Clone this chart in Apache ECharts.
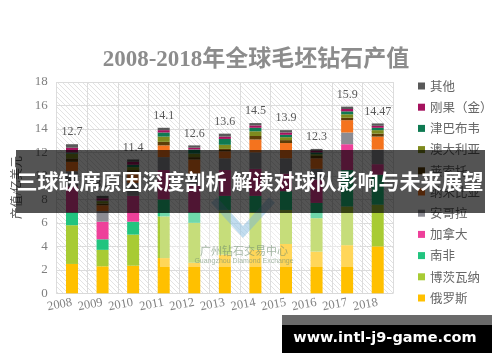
<!DOCTYPE html>
<html><head><meta charset="utf-8">
<script src="https://cdn.jsdelivr.net/npm/echarts@6/dist/echarts.min.js"></script>
<style>html,body{margin:0;padding:0;background:#fff}#c{width:500px;height:362px}</style>
</head><body><div id="c"></div>
<script>
const years = ['2008','2009','2010','2011','2012','2013','2014','2015','2016','2017','2018'];
const totals = [12.7, 8.3, 11.4, 14.1, 12.6, 13.6, 14.5, 13.9, 12.3, 15.9, 14.47];
const yTicks = [0, 18, 2];
// stacked from bottom to top
const russia      = [2.5, 2.3, 2.35, 3.0, 2.6, 3.3, 3.7, 4.2, 3.55, 4.1, 4.0];
const botswana    = [3.3, 1.4, 2.65, 3.55, 3.4, 3.8, 3.2, 2.9, 2.85, 3.3, 3.55];
const southAfrica = [1.1, 0.9, 1.1, 1.45, 0.9, 1.2, 1.4, 1.6, 1.3, 3.1, 2.55];
const canada      = [2.2, 1.5, 2.2, 2.5, 2.3, 2.2, 2.3, 1.5, 2.0, 2.2, 0.9];
const angola      = [1.3, 0.9, 1.1, 1.1, 1.0, 1.0, 1.4, 1.3, 0.9, 1.0, 1.25];
const namibia     = [0.8, 0.5, 0.8, 1.0, 1.2, 0.6, 1.1, 1.3, 0.9, 1.05, 1.1];
const lesotho     = [0.3, 0.15, 0.3, 0.3, 0.2, 0.2, 0.3, 0.25, 0.2, 0.2, 0.25];
const australia   = [0.4, 0.2, 0.25, 0.45, 0.3, 0.35, 0.4, 0.25, 0.15, 0.3, 0.3];
const zimbabwe    = [0.1, 0.05, 0.2, 0.35, 0.35, 0.5, 0.3, 0.2, 0.15, 0.25, 0.2];
const drc         = [0.4, 0.2, 0.25, 0.2, 0.15, 0.2, 0.2, 0.2, 0.15, 0.2, 0.17];
const other       = [0.3, 0.2, 0.2, 0.2, 0.2, 0.25, 0.2, 0.2, 0.15, 0.2, 0.2];
const seriesNames = ['俄罗斯','博茨瓦纳','南非','加拿大','安哥拉','纳米比亚','莱索托','澳大利亚','津巴布韦','刚果（金）','其他'];
const seriesData = [russia, botswana, southAfrica, canada, angola, namibia, lesotho, australia, zimbabwe, drc, other];
const colors = ['#FFC000','#A8CB34','#22C47F','#EE409A','#8C8C93','#F4731E','#5C3D08','#7E8A1E','#0F7A52','#A5125E','#595959'];

const pc = document.createElement('canvas'); pc.width = 5; pc.height = 5;
const g = pc.getContext('2d');
g.fillStyle = '#ffffff'; g.fillRect(0,0,5,5);
g.strokeStyle = '#e3e3e3'; g.lineWidth = 1;
g.beginPath(); g.moveTo(-1,-1); g.lineTo(6,6); g.stroke();

const serif = '"Liberation Serif", "Noto Sans CJK SC", serif';
const chart = echarts.init(document.getElementById('c'), null, {renderer:'canvas'});
const series = seriesNames.map((n, i) => ({
  name: n, type: 'bar', stack: 'all', barWidth: 12,
  itemStyle: {color: colors[i]},
  data: seriesData[i],
  label: i === seriesNames.length - 1 ? {
    show: true, position: 'top', distance: 6,
    fontFamily: serif, fontSize: 12, color: '#595959',
    formatter: p => String(totals[p.dataIndex])
  } : {show: false}
}));
chart.setOption({
  animation: false,
  backgroundColor: '#ffffff',
  title: {
    text: '2008-2018年全球毛坯钻石产值', left: 251, top: 44, textAlign: 'center',
    textStyle: {fontFamily: serif, fontSize: 23, fontWeight: 'bold', color: '#8c8c8c'}
  },
  legend: {
    orient: 'vertical', left: 413, top: 74, itemWidth: 7, itemHeight: 7, itemGap: 7.2,
    icon: 'rect', data: seriesNames.slice().reverse(),
    textStyle: {fontFamily: '"Noto Sans CJK SC", sans-serif', fontSize: 12.5, color: '#666', lineHeight: 14}
  },
  grid: {left: 56.7, right: 107, top: 82, bottom: 68.7, show: true, borderWidth: 0,
    backgroundColor: {image: pc, repeat: 'repeat'}},
  xAxis: {
    type: 'category', data: years,
    axisLine: {lineStyle: {color: '#d9d9d9'}}, axisTick: {show: false},
    splitLine: {show: true, lineStyle: {color: '#dcdcdc'}},
    axisLabel: {interval: 0, rotate: 11, margin: 9, fontFamily: serif, fontSize: 12.5, color: '#7f7f7f'}
  },
  yAxis: {
    type: 'value', min: yTicks[0], max: yTicks[1], interval: yTicks[2],
    name: '产值/亿美元', nameLocation: 'middle', nameGap: 33, nameRotate: 90,
    nameTextStyle: {fontFamily: serif, fontSize: 12, color: '#595959'},
    axisLine: {show: false}, axisTick: {show: false},
    splitLine: {lineStyle: {color: '#dcdcdc'}},
    axisLabel: {margin: 9, fontFamily: serif, fontSize: 13, color: '#7f7f7f'}
  },
  series: series,
  graphic: [
    {type: 'rect', z: 90, shape: {x: 160, y: 213, width: 200, height: 54}, style: {fill: 'rgba(255,255,255,0.35)'}},
    {type: 'polyline', z: 91, shape: {points: [[214,200],[243,232],[272,200]]}, style: {stroke: 'rgba(120,180,220,0.45)', lineWidth: 8, fill: null}},
    {type: 'text', z: 92, x: 244, y: 251, style: {text: '广州钻石交易中心', fontFamily: '"Noto Sans CJK SC", sans-serif', fontSize: 11, fill: 'rgba(110,140,110,0.6)', align: 'center', verticalAlign: 'middle'}},
    {type: 'text', z: 92, x: 244, y: 261.5, style: {text: 'Guangzhou Diamond Exchange', fontFamily: '"Liberation Sans", sans-serif', fontSize: 7, fill: 'rgba(110,140,110,0.6)', align: 'center', verticalAlign: 'middle'}},
    {type: 'rect', z: 100, shape: {x: 16, y: 150, width: 469, height: 63}, style: {fill: 'rgba(0,0,0,0.67)'}},
    {type: 'text', z: 101, x: 250, y: 181.5, style: {text: '三球缺席原因深度剖析 解读对球队影响与未来展望', fontFamily: '"Noto Sans CJK SC", sans-serif', fontWeight: 'bold', fontSize: 21, fill: '#ffffff', align: 'center', verticalAlign: 'middle'}},
    {type: 'rect', z: 100, shape: {x: 282, y: 315, width: 210, height: 10}, style: {fill: '#6a6a6a'}},
    {type: 'rect', z: 100, shape: {x: 282, y: 325, width: 210, height: 28}, style: {fill: '#000000'}},
    {type: 'text', z: 101, x: 385, y: 338, style: {text: 'www.intl-j9-game.com', fontFamily: '"DejaVu Sans", sans-serif', fontWeight: 'bold', fontSize: 14.5, fill: '#ffffff', align: 'center', verticalAlign: 'middle'}}
  ]
});
</script></body></html>
